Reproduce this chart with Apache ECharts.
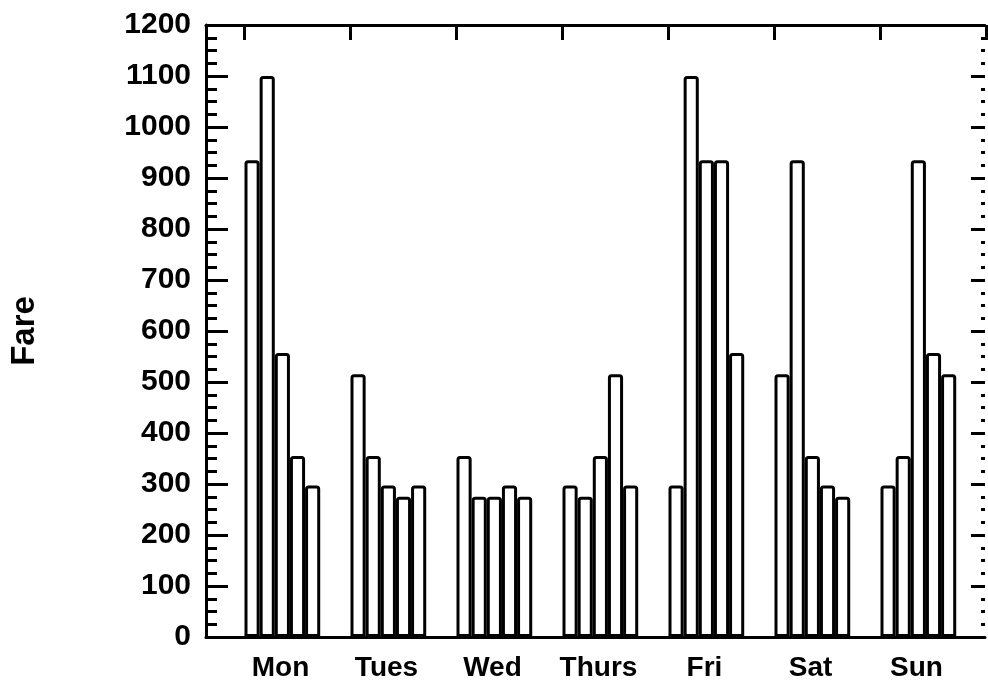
<!DOCTYPE html>
<html>
<head>
<meta charset="utf-8">
<script src="https://cdn.jsdelivr.net/npm/echarts@6/dist/echarts.min.js"></script>
<style>html,body{margin:0;padding:0;background:#fff}#c{width:988px;height:680px}</style>
</head>
<body>
<div id="c"></div>
<script>
var days = ['Mon', 'Tues', 'Wed', 'Thurs', 'Fri', 'Sat', 'Sun'];
var fare1 = [935, 515, 355, 297, 297, 515, 297];
var fare2 = [1100, 355, 275, 275, 1100, 935, 355];
var fare3 = [557, 297, 275, 355, 935, 355, 935];
var fare4 = [355, 275, 297, 515, 935, 297, 557];
var fare5 = [297, 297, 275, 297, 557, 275, 515];
var yTicks = [0, 100, 200, 300, 400, 500, 600, 700, 800, 900, 1000, 1100, 1200];

var FONT = 'Liberation Sans, Arial, Helvetica, sans-serif';
var yMin = yTicks[0], yMax = yTicks[yTicks.length - 1], yStep = yTicks[1] - yTicks[0];

var chart = echarts.init(document.getElementById('c'), null, {renderer: 'canvas'});

function barSeries(data) {
  return {
    type: 'bar', xAxisIndex: 2, yAxisIndex: 2, data: data,
    barGap: '0%', barCategoryGap: '0%',
    itemStyle: {color: '#ffffff', borderColor: '#000000', borderWidth: 3, borderRadius: [2, 2, 0, 0]},
    silent: true, animation: false
  };
}
var spacer = days.map(function () { return null; });

chart.setOption({
  backgroundColor: '#ffffff',
  animation: false,
  grid: [
    {left: 206, right: 3, top: 25, bottom: 43, outerBoundsMode: 'none', containLabel: false},
    {left: 244.5, right: 1.5, top: 25, bottom: 43, outerBoundsMode: 'none', containLabel: false}
  ],
  xAxis: [
    {gridIndex: 0, type: 'value', min: 0, max: 1, position: 'bottom',
     axisLine: {show: true, onZero: false, lineStyle: {color: '#000', width: 3}},
     axisTick: {show: false}, axisLabel: {show: false}, splitLine: {show: false}},
    {gridIndex: 0, type: 'value', min: 0, max: 1, position: 'top',
     axisLine: {show: true, onZero: false, lineStyle: {color: '#000', width: 3}},
     axisTick: {show: false}, axisLabel: {show: false}, splitLine: {show: false}},
    {gridIndex: 1, type: 'category', data: days, position: 'bottom',
     axisLine: {show: false, onZero: false}, axisTick: {show: false},
     axisLabel: {show: true, color: '#000', fontFamily: FONT, fontWeight: 'bold', fontSize: 28,
                 margin: 17, padding: [0, 34, 0, 0]}},
    {gridIndex: 1, type: 'category', data: days, position: 'top',
     axisLine: {show: false, onZero: false},
     axisTick: {show: true, inside: true, length: 15, lineStyle: {color: '#000', width: 3}},
     axisLabel: {show: false}}
  ],
  yAxis: [
    {gridIndex: 0, type: 'value', min: yMin, max: yMax, interval: yStep, position: 'left',
     name: 'Fare', nameLocation: 'middle', nameGap: 165, nameRotate: 90,
     nameTextStyle: {color: '#000', fontFamily: FONT, fontWeight: 'bold', fontSize: 33},
     axisLine: {show: true, onZero: false, lineStyle: {color: '#000', width: 3}},
     axisTick: {show: true, inside: true, length: 22, lineStyle: {color: '#000', width: 3}},
     minorTick: {show: true, splitNumber: 4, length: 11, lineStyle: {color: '#000', width: 3}},
     axisLabel: {show: true, color: '#000', fontFamily: FONT, fontWeight: 'bold', fontSize: 30, margin: 15,
                 formatter: function (v) { return String(v); }},
     splitLine: {show: false}},
    {gridIndex: 0, type: 'value', min: yMin, max: yMax, interval: yStep, position: 'right',
     axisLine: {show: false, onZero: false},
     axisTick: {show: true, inside: true, length: 14, lineStyle: {color: '#000', width: 3}},
     minorTick: {show: true, splitNumber: 4, length: 4, lineStyle: {color: '#000', width: 3}},
     axisLabel: {show: false}, splitLine: {show: false}},
    {gridIndex: 1, type: 'value', min: yMin, max: yMax, interval: yStep, show: false}
  ],
  series: [
    barSeries(fare1), barSeries(fare2), barSeries(fare3), barSeries(fare4), barSeries(fare5),
    barSeries(spacer), barSeries(spacer)
  ]
});
</script>
</body>
</html>
